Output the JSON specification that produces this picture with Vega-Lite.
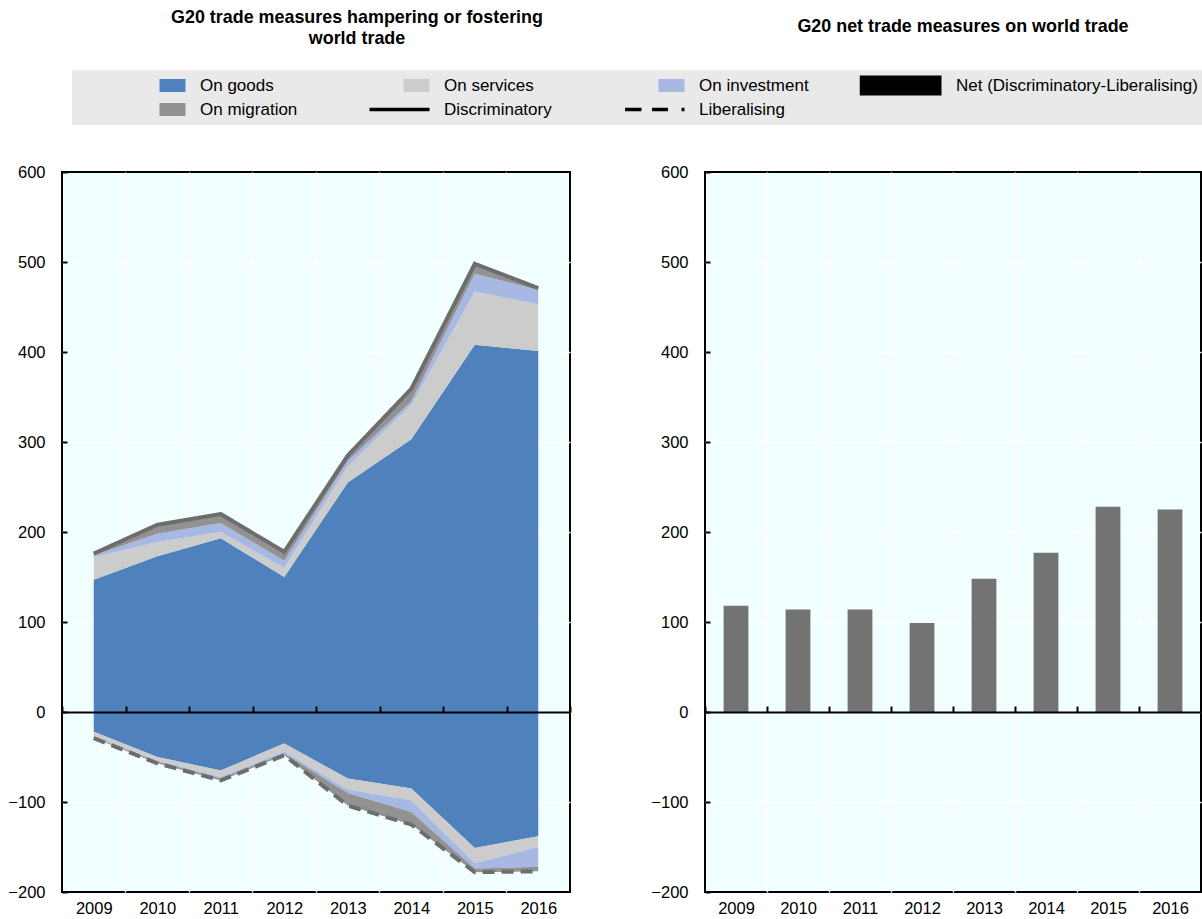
{
  "$schema": "https://vega.github.io/schema/vega-lite/v6.json",
  "padding": {"left": 6, "top": 8, "right": 0, "bottom": 0},
  "background": "white",
  "bounds": "flush",
  "spacing": 135,
  "resolve": {"legend": {"fill": "independent", "stroke": "independent", "shape": "independent"}},
  "config": {
    "font": "Liberation Sans",
    "view": {"fill": "#f2ffff", "stroke": "black", "strokeWidth": 2},
    "axis": {
      "labelFont": "Liberation Sans", "labelFontSize": 16.5, "labelColor": "black",
      "gridColor": "white", "gridWidth": 1.5, "gridOpacity": 1, "title": null
    },
    "title": {"font": "Liberation Sans", "fontSize": 17.9, "fontWeight": "bold", "color": "black", "anchor": "middle", "frame": "group"}
  },
  "hconcat": [
    {
      "width": 508,
      "height": 720,
      "view": {"fill": "#f2ffff", "stroke": "black", "strokeWidth": 2},
      "title": {"text": ["G20 trade measures hampering or fostering", "world trade"], "offset": 22, "dx": 41, "lineHeight": 21},
      "data": {"values": [
        {"year": "2009", "category": "On goods", "type": "Discriminatory", "value": 147},
        {"year": "2009", "category": "On services", "type": "Discriminatory", "value": 25},
        {"year": "2009", "category": "On investment", "type": "Discriminatory", "value": 2},
        {"year": "2009", "category": "On migration", "type": "Discriminatory", "value": 2},
        {"year": "2010", "category": "On goods", "type": "Discriminatory", "value": 173},
        {"year": "2010", "category": "On services", "type": "Discriminatory", "value": 16},
        {"year": "2010", "category": "On investment", "type": "Discriminatory", "value": 9},
        {"year": "2010", "category": "On migration", "type": "Discriminatory", "value": 10},
        {"year": "2011", "category": "On goods", "type": "Discriminatory", "value": 193},
        {"year": "2011", "category": "On services", "type": "Discriminatory", "value": 7},
        {"year": "2011", "category": "On investment", "type": "Discriminatory", "value": 10},
        {"year": "2011", "category": "On migration", "type": "Discriminatory", "value": 10},
        {"year": "2012", "category": "On goods", "type": "Discriminatory", "value": 150},
        {"year": "2012", "category": "On services", "type": "Discriminatory", "value": 10},
        {"year": "2012", "category": "On investment", "type": "Discriminatory", "value": 8},
        {"year": "2012", "category": "On migration", "type": "Discriminatory", "value": 10},
        {"year": "2013", "category": "On goods", "type": "Discriminatory", "value": 255},
        {"year": "2013", "category": "On services", "type": "Discriminatory", "value": 18},
        {"year": "2013", "category": "On investment", "type": "Discriminatory", "value": 6},
        {"year": "2013", "category": "On migration", "type": "Discriminatory", "value": 6},
        {"year": "2014", "category": "On goods", "type": "Discriminatory", "value": 303},
        {"year": "2014", "category": "On services", "type": "Discriminatory", "value": 38},
        {"year": "2014", "category": "On investment", "type": "Discriminatory", "value": 4},
        {"year": "2014", "category": "On migration", "type": "Discriminatory", "value": 14},
        {"year": "2015", "category": "On goods", "type": "Discriminatory", "value": 408},
        {"year": "2015", "category": "On services", "type": "Discriminatory", "value": 59},
        {"year": "2015", "category": "On investment", "type": "Discriminatory", "value": 20},
        {"year": "2015", "category": "On migration", "type": "Discriminatory", "value": 11},
        {"year": "2016", "category": "On goods", "type": "Discriminatory", "value": 401},
        {"year": "2016", "category": "On services", "type": "Discriminatory", "value": 52},
        {"year": "2016", "category": "On investment", "type": "Discriminatory", "value": 16},
        {"year": "2016", "category": "On migration", "type": "Discriminatory", "value": 2},
        {"year": "2009", "category": "On goods", "type": "Liberalising", "value": -22},
        {"year": "2009", "category": "On services", "type": "Liberalising", "value": -5},
        {"year": "2009", "category": "On investment", "type": "Liberalising", "value": -1},
        {"year": "2009", "category": "On migration", "type": "Liberalising", "value": -1},
        {"year": "2010", "category": "On goods", "type": "Liberalising", "value": -50},
        {"year": "2010", "category": "On services", "type": "Liberalising", "value": -4},
        {"year": "2010", "category": "On investment", "type": "Liberalising", "value": -1},
        {"year": "2010", "category": "On migration", "type": "Liberalising", "value": -2},
        {"year": "2011", "category": "On goods", "type": "Liberalising", "value": -65},
        {"year": "2011", "category": "On services", "type": "Liberalising", "value": -7},
        {"year": "2011", "category": "On investment", "type": "Liberalising", "value": -2},
        {"year": "2011", "category": "On migration", "type": "Liberalising", "value": -2},
        {"year": "2012", "category": "On goods", "type": "Liberalising", "value": -35},
        {"year": "2012", "category": "On services", "type": "Liberalising", "value": -9},
        {"year": "2012", "category": "On investment", "type": "Liberalising", "value": -2},
        {"year": "2012", "category": "On migration", "type": "Liberalising", "value": -2},
        {"year": "2013", "category": "On goods", "type": "Liberalising", "value": -74},
        {"year": "2013", "category": "On services", "type": "Liberalising", "value": -12},
        {"year": "2013", "category": "On investment", "type": "Liberalising", "value": -4},
        {"year": "2013", "category": "On migration", "type": "Liberalising", "value": -14},
        {"year": "2014", "category": "On goods", "type": "Liberalising", "value": -85},
        {"year": "2014", "category": "On services", "type": "Liberalising", "value": -13},
        {"year": "2014", "category": "On investment", "type": "Liberalising", "value": -13},
        {"year": "2014", "category": "On migration", "type": "Liberalising", "value": -14},
        {"year": "2015", "category": "On goods", "type": "Liberalising", "value": -151},
        {"year": "2015", "category": "On services", "type": "Liberalising", "value": -17},
        {"year": "2015", "category": "On investment", "type": "Liberalising", "value": -6},
        {"year": "2015", "category": "On migration", "type": "Liberalising", "value": -4},
        {"year": "2016", "category": "On goods", "type": "Liberalising", "value": -138},
        {"year": "2016", "category": "On services", "type": "Liberalising", "value": -12},
        {"year": "2016", "category": "On investment", "type": "Liberalising", "value": -22},
        {"year": "2016", "category": "On migration", "type": "Liberalising", "value": -5}
      ]},
      "layer": [
        {
          "transform": [{"calculate": "indexof(['On goods','On services','On investment','On migration'], datum.category)", "as": "k"}],
          "mark": {"type": "area", "interpolate": "linear"},
          "encoding": {
            "x": {"field": "year", "type": "ordinal", "bandPosition": 0.5,
              "scale": {"type": "band", "paddingInner": 0, "paddingOuter": 0},
              "axis": {"orient": "top", "values": ["2010", "2011", "2012", "2013", "2014", "2015", "2016"], "bandPosition": 0, "labels": false, "ticks": false, "domain": false, "grid": true, "zindex": 0, "minExtent": 0, "maxExtent": 0}},
            "y": {"field": "value", "type": "quantitative", "stack": "zero",
              "scale": {"domain": [-200, 600], "nice": false, "zero": false},
              "axis": {"orient": "right", "values": [-100, 0, 100, 200, 300, 400, 500], "labels": false, "ticks": false, "domain": false, "grid": true, "zindex": 0, "minExtent": 0, "maxExtent": 0}},
            "color": {"field": "category", "type": "nominal",
              "scale": {"domain": ["On goods", "On services", "On investment", "On migration"],
                "range": ["#4f81bd", "#cccccc", "#a7b9e3", "#929292"]},
              "legend": null},
            "detail": {"field": "type"},
            "order": {"field": "k", "type": "quantitative"}
          }
        },
        {
          "transform": [{"aggregate": [{"op": "sum", "field": "value", "as": "total"}], "groupby": ["year", "type"]}],
          "mark": {"type": "line", "color": "#6d6d6d", "strokeWidth": 4},
          "encoding": {
            "x": {"field": "year", "type": "ordinal", "bandPosition": 0.5,
              "axis": {"orient": "bottom", "offset": -180, "labelAngle": 0, "domain": true, "domainColor": "black", "domainWidth": 2,
                "ticks": true, "tickSize": -6, "tickColor": "black", "tickWidth": 2, "tickBand": "extent",
                "labelPadding": 194, "grid": false, "zindex": 1}},
            "y": {"field": "total", "type": "quantitative",
              "axis": {"orient": "left", "values": [-200, -100, 0, 100, 200, 300, 400, 500, 600], "domain": false, "ticks": true, "tickSize": -5,
                "tickColor": "black", "tickWidth": 2, "labelPadding": 22, "grid": false, "zindex": 1}},
            "strokeDash": {"field": "type", "type": "nominal", "scale": {"domain": ["Discriminatory", "Liberalising"], "range": [[1, 0], [12, 7]]}, "legend": null}
          }
        },
        {
          "data": {"values": [
            {"series": "On goods"}, {"series": "On services"}, {"series": "On investment"},
            {"series": "Net (Discriminatory-Liberalising)"}, {"series": "On migration"},
            {"series": "Discriminatory"}, {"series": "Liberalising"}
          ]},
          "mark": {"type": "point", "filled": true, "opacity": 1},
          "encoding": {
            "size": {"value": 0},
            "fill": {"field": "series", "type": "nominal",
              "scale": {"domain": ["On goods", "On services", "On investment", "Net (Discriminatory-Liberalising)", "On migration", "Discriminatory", "Liberalising"],
                "range": ["#4f81bd", "#cccccc", "#a7b9e3", "black", "#929292", "transparent", "transparent"]},
              "legend": {"orient": "none", "legendX": 10, "legendY": -102, "direction": "horizontal", "columns": 4, "columnPadding": 50, "rowPadding": 3,
                "fillColor": "#e9e9e9", "padding": 5, "title": "\u00a0", "titleOrient": "left", "titlePadding": 26.5,
                "labelFont": "Liberation Sans", "labelFontSize": 17, "labelColor": "black", "labelLimit": 400, "labelOffset": 12.5,
                "symbolSize": 6400, "symbolStrokeWidth": 3.5, "symbolOpacity": 1, "clipHeight": 21, "symbolOffset": 0}},
            "stroke": {"field": "series", "type": "nominal",
              "scale": {"domain": ["On goods", "On services", "On investment", "Net (Discriminatory-Liberalising)", "On migration", "Discriminatory", "Liberalising"],
                "range": ["transparent", "transparent", "transparent", "transparent", "transparent", "black", "black"]},
              "legend": {"orient": "none", "legendX": 10, "legendY": -102, "direction": "horizontal", "columns": 4, "columnPadding": 50, "rowPadding": 3,
                "fillColor": "#e9e9e9", "padding": 5, "title": "\u00a0", "titleOrient": "left", "titlePadding": 26.5,
                "labelFont": "Liberation Sans", "labelFontSize": 17, "labelColor": "black", "labelLimit": 400, "labelOffset": 12.5,
                "symbolSize": 6400, "symbolStrokeWidth": 3.5, "symbolOpacity": 1, "clipHeight": 21, "symbolOffset": 0}},
            "shape": {"field": "series", "type": "nominal",
              "scale": {"domain": ["On goods", "On services", "On investment", "Net (Discriminatory-Liberalising)", "On migration", "Discriminatory", "Liberalising"],
                "range": ["M0.35,-0.1625H1V0.1625H0.35Z", "M0.35,-0.1625H1V0.1625H0.35Z", "M0.35,-0.1625H1V0.1625H0.35Z", "M-1.05,-0.25H1V0.25H-1.05Z", "M0.35,-0.1625H1V0.1625H0.35Z", "M-0.5,0H1", "M-0.4875,0H-0.075M0.1875,0H0.5875M0.925,0H1"]},
              "legend": {"orient": "none", "legendX": 10, "legendY": -102, "direction": "horizontal", "columns": 4, "columnPadding": 50, "rowPadding": 3,
                "fillColor": "#e9e9e9", "padding": 5, "title": "\u00a0", "titleOrient": "left", "titlePadding": 26.5,
                "labelFont": "Liberation Sans", "labelFontSize": 17, "labelColor": "black", "labelLimit": 400, "labelOffset": 12.5,
                "symbolSize": 6400, "symbolStrokeWidth": 3.5, "symbolOpacity": 1, "clipHeight": 21, "symbolOffset": 0}}
          }
        }
      ],
      "resolve": {"axis": {"x": "independent", "y": "independent"}}
    },
    {
      "width": 496,
      "height": 720,
      "view": {"fill": "#f2ffff", "stroke": "black", "strokeWidth": 2},
      "title": {"text": "G20 net trade  measures on world trade", "offset": 128, "dx": 10},
      "data": {"values": [
        {"year": "2009", "net": 118}, {"year": "2010", "net": 114}, {"year": "2011", "net": 114}, {"year": "2012", "net": 99},
        {"year": "2013", "net": 148}, {"year": "2014", "net": 177}, {"year": "2015", "net": 228}, {"year": "2016", "net": 225}
      ]},
      "layer": [
        {
          "mark": {"type": "bar", "color": "#737373", "width": {"band": 0.4}},
          "encoding": {
            "x": {"field": "year", "type": "ordinal",
              "scale": {"type": "band", "paddingInner": 0, "paddingOuter": 0},
              "axis": {"orient": "top", "values": ["2010", "2011", "2012", "2013", "2014", "2015", "2016"], "bandPosition": 0, "labels": false, "ticks": false, "domain": false, "grid": true, "zindex": 0, "minExtent": 0, "maxExtent": 0}},
            "y": {"field": "net", "type": "quantitative",
              "scale": {"domain": [-200, 600], "nice": false},
              "axis": {"orient": "right", "values": [-100, 0, 100, 200, 300, 400, 500], "labels": false, "ticks": false, "domain": false, "grid": true, "zindex": 0, "minExtent": 0, "maxExtent": 0}}
          }
        },
        {
          "mark": {"type": "bar", "opacity": 0, "width": {"band": 0.4}},
          "encoding": {
            "x": {"field": "year", "type": "ordinal",
              "axis": {"orient": "bottom", "offset": -180, "labelAngle": 0, "domain": true, "domainColor": "black", "domainWidth": 2,
                "ticks": true, "tickSize": -6, "tickColor": "black", "tickWidth": 2, "tickBand": "extent",
                "labelPadding": 194, "grid": false, "zindex": 1}},
            "y": {"field": "net", "type": "quantitative",
              "axis": {"orient": "left", "values": [-200, -100, 0, 100, 200, 300, 400, 500, 600], "domain": false, "ticks": true, "tickSize": -5,
                "tickColor": "black", "tickWidth": 2, "labelPadding": 22, "grid": false, "zindex": 1}}
          }
        }
      ],
      "resolve": {"axis": {"x": "independent", "y": "independent"}}
    }
  ]
}
